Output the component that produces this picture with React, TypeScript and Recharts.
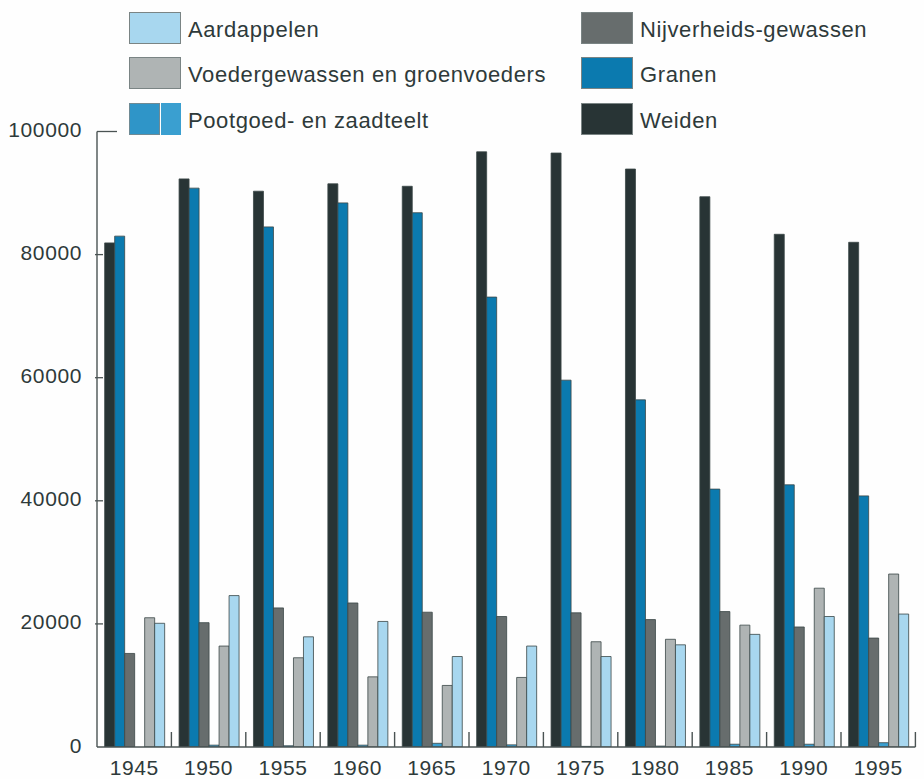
import React from 'react';
import { BarChart, Bar, XAxis, YAxis } from 'recharts';

const years = ['1945', '1950', '1955', '1960', '1965', '1970', '1975', '1980', '1985', '1990', '1995'];
const weiden = [81900, 92300, 90300, 91500, 91100, 96700, 96500, 93900, 89400, 83300, 82000];
const granen = [83000, 90800, 84500, 88400, 86800, 73100, 59600, 56400, 41900, 42600, 40800];
const nijverheids = [15200, 20200, 22600, 23400, 21900, 21200, 21800, 20700, 22000, 19500, 17700];
const pootgoed = [0, 300, 200, 300, 600, 350, 100, 150, 450, 450, 700];
const voeder = [21000, 16400, 14500, 11400, 10000, 11300, 17100, 17500, 19800, 25800, 28100];
const aardappelen = [20100, 24600, 17900, 20400, 14700, 16400, 14700, 16600, 18300, 21200, 21600];
const yTicks = [0, 20000, 40000, 60000, 80000, 100000];

const series = [
  { key: 'weiden', name: 'Weiden', values: weiden, color: '#283435' },
  { key: 'granen', name: 'Granen', values: granen, color: '#0b7aaf' },
  { key: 'nijverheids', name: 'Nijverheids-gewassen', values: nijverheids, color: '#676d6d' },
  { key: 'pootgoed', name: 'Pootgoed- en zaadteelt', values: pootgoed, color: '#3a9fd0' },
  { key: 'voeder', name: 'Voedergewassen en groenvoeders', values: voeder, color: '#afb4b4' },
  { key: 'aardappelen', name: 'Aardappelen', values: aardappelen, color: '#a8d7ef' },
];

const data = years.map((y, i) => {
  const row: any = { year: y };
  series.forEach((s) => { row[s.key] = s.values[i]; });
  return row;
});

const W = 924;
const H = 779;
const M = { top: 131.5, right: 8.6, left: 0, bottom: 0 };
const Y_W = 97;
const X_H = 32;
const halfBand = (W - M.left - M.right - Y_W) / years.length / 2;
const TXT = '#2e3a3a';
const FONT = '"Liberation Sans", Arial, Helvetica, sans-serif';

const XTick = (props: any) => {
  const { x, y, payload } = props;
  return (
    <g>
      <line x1={x + halfBand} x2={x + halfBand} y1={y} y2={y - 15} stroke="#4a5353" strokeWidth={1.4} />
      <text x={x} y={y + 20} textAnchor="middle" dominantBaseline="central" fill={TXT} fontSize={21} letterSpacing={0.6} fontFamily={FONT}>
        {payload.value}
      </text>
    </g>
  );
};

const YTick = (props: any) => {
  const { x, y, payload } = props;
  const top = payload.value === 100000;
  return (
    <g>
      {payload.value !== 0 && (
        <line x1={top ? x : x - 2} x2={top ? x + 20 : x + 6} y1={y} y2={y} stroke="#4a5353" strokeWidth={1.3} />
      )}
      <text x={x - 15} y={y - 2} textAnchor="end" dominantBaseline="central" fill={TXT} fontSize={21} letterSpacing={0.6} fontFamily={FONT}>
        {payload.value}
      </text>
    </g>
  );
};

const legendLeft = ['aardappelen', 'voeder', 'pootgoed'];
const legendRight = ['nijverheids', 'granen', 'weiden'];
const rowTops = [12, 57, 103];

const Swatch = ({ s }: any) => {
  if (s.key === 'pootgoed') {
    return (
      <div style={{ display: 'flex', width: 52, height: 32 }}>
        <div style={{ width: 29, height: 30, background: '#2f95c8', border: '1px solid #6f8a94' }} />
        <div style={{ width: 20, height: 32, background: s.color, marginLeft: 1 }} />
      </div>
    );
  }
  return <div style={{ width: 50, height: 30, background: s.color, border: '1px solid #7a8484' }} />;
};

const LegendCol = ({ keys, swX, textX }: any) => (
  <>
    {keys.map((k: string, i: number) => {
      const s = series.find((q) => q.key === k)!;
      return (
        <React.Fragment key={k}>
          <div style={{ position: 'absolute', left: swX, top: rowTops[i] }}>
            <Swatch s={s} />
          </div>
          <div
            style={{
              position: 'absolute',
              left: textX,
              top: rowTops[i] + 2,
              height: 32,
              lineHeight: '32px',
              fontSize: 22,
              letterSpacing: '0.6px',
              fontFamily: FONT,
              color: TXT,
              whiteSpace: 'nowrap',
            }}
          >
            {s.name}
          </div>
        </React.Fragment>
      );
    })}
  </>
);

export default function App() {
  return (
    <div style={{ position: 'absolute', left: 0, top: 0, width: W, height: H, background: '#fefefe' }}>
      <BarChart width={W} height={H} data={data} margin={M} barCategoryGap="10.3%" barGap={0} style={{ overflow: 'visible' }}>
        <XAxis
          dataKey="year"
          height={X_H}
          tickSize={0}
          tickMargin={0}
          tickLine={false}
          axisLine={{ stroke: '#4a5353', strokeWidth: 1.4 }}
          tick={<XTick />}
          interval={0}
        />
        <YAxis
          width={Y_W}
          domain={[0, 100000]}
          ticks={yTicks}
          tickSize={0}
          tickMargin={0}
          tickLine={false}
          axisLine={{ stroke: '#4a5353', strokeWidth: 1.4 }}
          tick={<YTick />}
          allowDataOverflow
        />
        {series.map((s) => (
          <Bar
            key={s.key}
            dataKey={s.key}
            name={s.name}
            fill={s.color}
            stroke="#3a4646"
            strokeWidth={0.8}
            isAnimationActive={false}
          />
        ))}
      </BarChart>
      <LegendCol keys={legendLeft} swX={129} textX={188} />
      <LegendCol keys={legendRight} swX={581} textX={640} />
    </div>
  );
}
